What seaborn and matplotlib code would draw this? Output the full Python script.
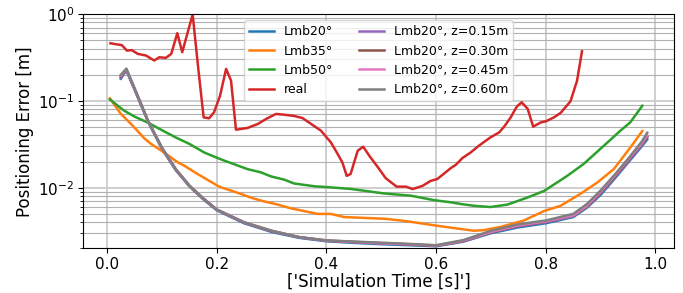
import numpy as np
import pandas as pd
import seaborn as sns
import matplotlib.pyplot as plt

# Lmb20 family (same time grid)
t20 = [0.025, 0.035, 0.05, 0.075, 0.1, 0.125, 0.15, 0.175, 0.2, 0.25, 0.3, 0.35, 0.4,
       0.45, 0.5, 0.55, 0.6, 0.65, 0.7, 0.75, 0.8, 0.85, 0.875, 0.9, 0.925, 0.95, 0.975, 0.985]
lmb20 = [0.18, 0.225, 0.135, 0.057, 0.028, 0.016, 0.0104, 0.0074, 0.0055, 0.0039, 0.0031, 0.00265,
         0.00242, 0.00232, 0.00224, 0.00218, 0.00212, 0.0024, 0.003, 0.0035, 0.0039, 0.0046,
         0.0059, 0.0083, 0.0126, 0.0195, 0.03, 0.036]
z015 = [0.185, 0.23, 0.137, 0.058, 0.0285, 0.0162, 0.0105, 0.0075, 0.0056, 0.00395, 0.00315, 0.0027,
        0.00245, 0.00236, 0.00228, 0.00222, 0.00214, 0.00243, 0.00305, 0.0036, 0.004, 0.0047,
        0.006, 0.0086, 0.013, 0.02, 0.031, 0.038]
z030 = [0.19, 0.232, 0.138, 0.058, 0.0287, 0.0163, 0.0105, 0.0075, 0.0056, 0.00398, 0.00318, 0.0027,
        0.00246, 0.00238, 0.0023, 0.00223, 0.00215, 0.00244, 0.00307, 0.00365, 0.00405, 0.0048,
        0.0061, 0.0088, 0.0133, 0.0205, 0.032, 0.039]
z045 = [0.195, 0.233, 0.139, 0.058, 0.0288, 0.0164, 0.0106, 0.0076, 0.0056, 0.004, 0.0032, 0.0027,
        0.00247, 0.00238, 0.0023, 0.00224, 0.00216, 0.00246, 0.0031, 0.00368, 0.0041, 0.0048,
        0.0062, 0.009, 0.0136, 0.021, 0.0325, 0.04]
z060 = [0.2, 0.235, 0.14, 0.058, 0.029, 0.0165, 0.0106, 0.0076, 0.0056, 0.004, 0.0032, 0.0027,
        0.00248, 0.0024, 0.00233, 0.00226, 0.00218, 0.0025, 0.0032, 0.0038, 0.0042, 0.005,
        0.0065, 0.0093, 0.014, 0.0215, 0.034, 0.043]

t35 = [0.005, 0.025, 0.044, 0.068, 0.08, 0.098, 0.129, 0.141, 0.165, 0.202, 0.208, 0.244, 0.262,
       0.281, 0.311, 0.335, 0.384, 0.408, 0.432, 0.505, 0.536, 0.56, 0.602, 0.633, 0.669, 0.687,
       0.718, 0.76, 0.797, 0.827, 0.863, 0.894, 0.924, 0.954, 0.976]
lmb35 = [0.107, 0.071, 0.054, 0.037, 0.032, 0.027, 0.0196, 0.0179, 0.0144, 0.0105, 0.0101, 0.0085,
         0.0077, 0.0071, 0.0064, 0.0058, 0.005, 0.005, 0.0046, 0.0044, 0.0042, 0.004, 0.00365,
         0.00343, 0.0032, 0.00325, 0.00355, 0.0042, 0.0054, 0.0062, 0.0085, 0.0115, 0.0164,
         0.029, 0.045]

t50 = [0.005, 0.03, 0.05, 0.075, 0.1, 0.125, 0.15, 0.177, 0.2, 0.214, 0.256, 0.281, 0.299, 0.323,
       0.341, 0.378, 0.408, 0.444, 0.505, 0.554, 0.596, 0.627, 0.645, 0.669, 0.699, 0.73, 0.766,
       0.797, 0.839, 0.869, 0.906, 0.936, 0.954, 0.976]
lmb50 = [0.104, 0.078, 0.066, 0.056, 0.046, 0.038, 0.032, 0.0255, 0.0222, 0.0205, 0.0164, 0.015,
         0.0135, 0.0124, 0.0112, 0.0104, 0.0101, 0.0097, 0.0086, 0.0081, 0.0072, 0.0068, 0.0065,
         0.0062, 0.006, 0.0064, 0.0077, 0.0092, 0.0137, 0.0188, 0.0305, 0.0454, 0.0566, 0.088]

t_real = [0.006, 0.027, 0.036, 0.045, 0.056, 0.071, 0.086, 0.095, 0.107, 0.117, 0.128, 0.137,
          0.156, 0.166, 0.176, 0.186, 0.195, 0.206, 0.217, 0.226, 0.235, 0.256, 0.275, 0.29,
          0.308, 0.322, 0.341, 0.356, 0.372, 0.39, 0.408, 0.417, 0.429, 0.437, 0.444, 0.457,
          0.467, 0.478, 0.493, 0.508, 0.528, 0.545, 0.557, 0.575, 0.59, 0.602, 0.617, 0.627,
          0.636, 0.648, 0.663, 0.678, 0.699, 0.715, 0.724, 0.736, 0.747, 0.756, 0.767, 0.777,
          0.791, 0.8, 0.815, 0.827, 0.845, 0.857, 0.866]
real = [0.461, 0.438, 0.38, 0.384, 0.348, 0.333, 0.292, 0.318, 0.313, 0.348, 0.602, 0.364,
        0.99, 0.244, 0.0647, 0.0631, 0.074, 0.115, 0.234, 0.171, 0.0466, 0.0488, 0.0543, 0.062,
        0.0708, 0.0695, 0.0671, 0.0636, 0.0543, 0.0454, 0.0333, 0.0267, 0.0196, 0.0137, 0.0144,
        0.0267, 0.0297, 0.0234, 0.0175, 0.0129, 0.0103, 0.0103, 0.00966, 0.0105, 0.012, 0.0126,
        0.015, 0.0169, 0.0184, 0.022, 0.0255, 0.0305, 0.038, 0.0434, 0.0505, 0.0647, 0.0859,
        0.0964, 0.0809, 0.0505, 0.0566, 0.0582, 0.0647, 0.0727, 0.0989, 0.171, 0.373]

series = [
    ("Lmb20°", t20, lmb20),
    ("Lmb35°", t35, lmb35),
    ("Lmb50°", t50, lmb50),
    ("real", t_real, real),
    ("Lmb20°, z=0.15m", t20, z015),
    ("Lmb20°, z=0.30m", t20, z030),
    ("Lmb20°, z=0.45m", t20, z045),
    ("Lmb20°, z=0.60m", t20, z060),
]
colors = sns.color_palette("tab10", 8)

fig, ax = plt.subplots(figsize=(6.83, 2.93), dpi=100)
for (name, t, v), c in zip(series, colors):
    sns.lineplot(x=t, y=v, ax=ax, label=name, color=c, linewidth=1.8, estimator=None)

ax.set_yscale("log")
ax.set_ylim(0.002, 1)
ax.grid(True, which="major", color="#cccccc", linewidth=1.3)
ax.grid(True, which="minor", color="#b0b0b0", linewidth=0.8)
ax.set_xlabel("['Simulation Time [s]']", fontsize=12, labelpad=1)
ax.set_ylabel("Positioning Error [m]", fontsize=12, labelpad=3)
ax.tick_params(labelsize=11, pad=2.5)
ax.legend(ncol=2, loc="upper center", fontsize=9)

fig.subplots_adjust(left=0.1215, right=0.987, top=0.952, bottom=0.152)
fig.savefig("out.png")
